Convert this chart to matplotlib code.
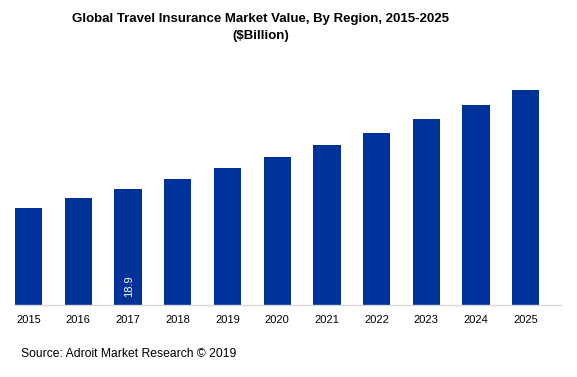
import matplotlib
matplotlib.use("Agg")
import matplotlib.pyplot as plt

years = ["2015", "2016", "2017", "2018", "2019", "2020", "2021", "2022", "2023", "2024", "2025"]
values = [15.8, 17.4, 18.9, 20.5, 22.3, 24.1, 26.1, 28.0, 30.3, 32.6, 35.0]
label_index = 2
label_text = "18.9"

plt.rcParams['font.family'] = ['Liberation Sans', 'DejaVu Sans']

W, H = 577, 377
fig = plt.figure(figsize=(W / 100, H / 100), dpi=100)
ymax = 40.0
px_per_unit = 215 / values[-1]
top_px = 305 - ymax * px_per_unit
ax = fig.add_axes([15 / W, (H - 305) / H, (561 - 15) / W, (305 - top_px) / H])

x = list(range(len(years)))
ax.bar(x, values, width=0.55, color="#003399", zorder=2)
ax.set_xlim(-0.275, 10.71)
ax.set_ylim(0, ymax)
ax.set_xticks(x)
ax.set_xticklabels(years, fontsize=8, color="#000000")
ax.tick_params(axis="x", length=0, pad=7)
ax.set_yticks([])
for s in ["top", "right", "left"]:
    ax.spines[s].set_visible(False)
ax.spines["bottom"].set_color("#d9d9d9")
ax.spines["bottom"].set_linewidth(1.0)

ax.text(x[label_index] + 0.03, 1.3, label_text, rotation=90, color="white",
        fontsize=8, ha="center", va="bottom")

fig.text(261 / W, 1 - 19 / H, "Global Travel Insurance Market Value, By Region, 2015-2025",
         fontsize=9.5, fontweight="bold", ha="center", va="center")
fig.text(261 / W, 1 - 36 / H, "($Billion)", fontsize=9.5, fontweight="bold",
         ha="center", va="center")
fig.text(21 / W, 1 - 354 / H, "Source: Adroit Market Research \u00a9 2019", fontsize=8.7,
         ha="left", va="center")

fig.savefig("out.png", dpi=100)
